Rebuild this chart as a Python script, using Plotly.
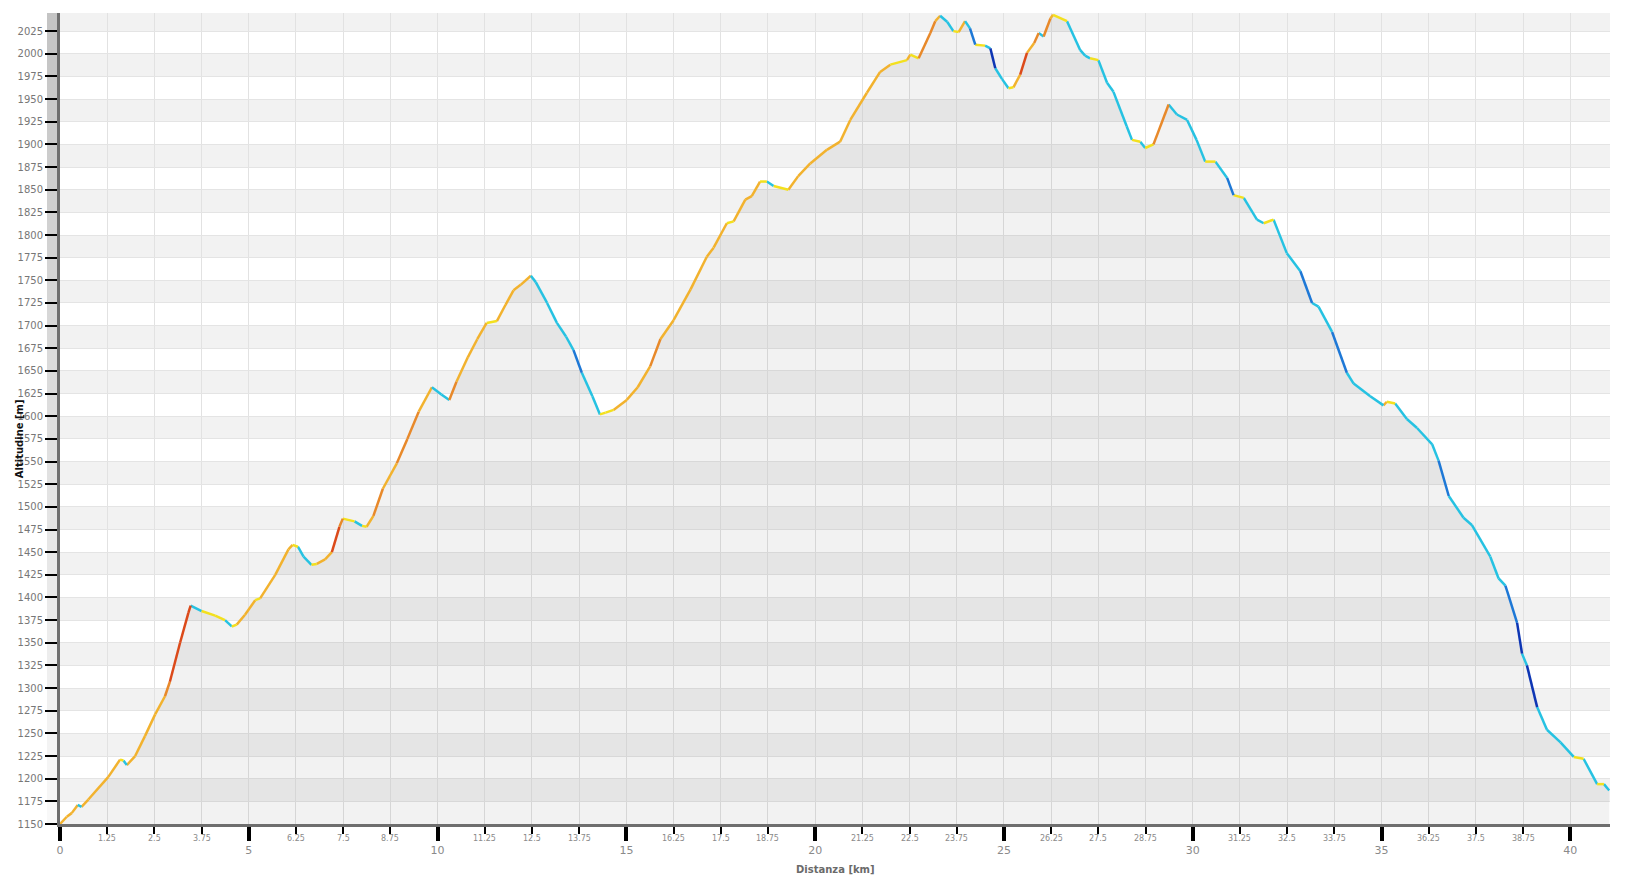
import plotly.graph_objects as go

# Elevation profile (km, m)
distanza = [0.00, 0.18, 0.31, 0.47, 0.57, 0.75, 1.28, 1.59, 1.68, 1.77, 1.99, 2.25, 2.52, 2.78,
            2.91, 3.18, 3.40, 3.46, 3.75, 4.11, 4.37, 4.55, 4.68, 4.90, 5.17, 5.30, 5.70, 6.05,
            6.16, 6.30, 6.45, 6.66, 6.80, 7.02, 7.20, 7.40, 7.49, 7.80, 8.00, 8.12, 8.30, 8.55,
            8.92, 9.20, 9.50, 9.85, 10.10, 10.31, 10.50, 10.80, 11.05, 11.30, 11.57, 11.80, 12.01,
            12.20, 12.47, 12.60, 12.90, 13.16, 13.40, 13.60, 13.82, 14.10, 14.30, 14.45, 14.66,
            15.01, 15.30, 15.63, 15.90, 16.25, 16.70, 17.13, 17.31, 17.66, 17.84, 18.15, 18.32,
            18.54, 18.72, 18.90, 19.29, 19.55, 19.87, 20.31, 20.66, 20.93, 21.37, 21.72, 21.99,
            22.43, 22.52, 22.74, 23.05, 23.18, 23.31, 23.50, 23.66, 23.80, 23.97, 24.10, 24.24,
            24.50, 24.64, 24.77, 24.95, 25.12, 25.25, 25.43, 25.61, 25.80, 25.92, 26.05, 26.23,
            26.30, 26.67, 27.02, 27.15, 27.28, 27.50, 27.73, 27.90, 28.25, 28.39, 28.61, 28.74,
            28.96, 29.36, 29.58, 29.85, 30.10, 30.33, 30.60, 30.91, 31.08, 31.35, 31.70, 31.88,
            32.14, 32.49, 32.85, 33.16, 33.33, 33.69, 34.08, 34.26, 34.70, 35.05, 35.14, 35.36,
            35.67, 35.94, 36.34, 36.51, 36.78, 37.17, 37.39, 37.88, 38.10, 38.28, 38.59, 38.72,
            38.85, 39.12, 39.38, 39.74, 40.09, 40.35, 40.71, 40.89, 41.03]
altitudine = [1150, 1158, 1162, 1171, 1169, 1177, 1202, 1221, 1220, 1215, 1225, 1247, 1271, 1291,
              1307, 1350, 1383, 1391, 1385, 1380, 1375, 1368, 1370, 1381, 1397, 1399, 1425, 1453,
              1458, 1456, 1445, 1436, 1437, 1442, 1450, 1478, 1487, 1484, 1479, 1478, 1490, 1520,
              1548, 1575, 1605, 1632, 1624, 1618, 1638, 1665, 1685, 1703, 1705, 1723, 1739,
              1745, 1755, 1748, 1725, 1703, 1688, 1673, 1648, 1622, 1602, 1604, 1607,
              1618, 1632, 1655, 1685, 1706, 1740, 1776, 1786, 1813, 1815, 1839, 1843,
              1859, 1859, 1854, 1850, 1865, 1879, 1894, 1903, 1927, 1957, 1980, 1988,
              1993, 1999, 1995, 2023, 2036, 2042, 2035, 2025, 2024, 2036, 2028, 2010,
              2009, 2006, 1984, 1972, 1962, 1963, 1977, 2001, 2012, 2023, 2019, 2039,
              2043, 2036, 2004, 1998, 1995, 1993, 1968, 1958, 1920, 1905, 1903, 1896,
              1900, 1944, 1933, 1927, 1905, 1881, 1881, 1863, 1844, 1841, 1817, 1813,
              1817, 1780, 1760, 1725, 1721, 1693, 1648, 1636, 1622, 1612, 1616, 1614,
              1597, 1587, 1569, 1551, 1512, 1488, 1480, 1445, 1421, 1413, 1372, 1338,
              1325, 1279, 1254, 1240, 1224, 1222, 1194, 1194, 1187]

major_ticks = [0, 5, 10, 15, 20, 25, 30, 35, 40]
minor_ticks = [1.25, 2.5, 3.75, 6.25, 7.5, 8.75, 11.25, 12.5, 13.75, 16.25, 17.5, 18.75,
               21.25, 22.5, 23.75, 26.25, 27.5, 28.75, 31.25, 32.5, 33.75, 36.25, 37.5, 38.75]

X_MAX = 41.05
Y_MIN, Y_MAX = 1150, 2045
FONT = "DejaVu Sans"


def slope_color(g):
    # g = grade in %
    if g >= 13:
        return "#DC4A1A"
    if g >= 9:
        return "#E8892A"
    if g >= 2:
        return "#F2B22E"
    if g > -2:
        return "#F3E01E"
    if g > -11:
        return "#26C2E2"
    if g > -15:
        return "#1E78D6"
    return "#0E36B4"


fig = go.Figure()

# grey area under the profile
fig.add_trace(go.Scatter(
    x=distanza, y=altitudine, mode="lines", fill="tozeroy",
    fillcolor="rgba(0,0,0,0.05)", line=dict(width=0), hoverinfo="skip", showlegend=False
))

# profile line coloured by slope
segs = {}
for i in range(len(distanza) - 1):
    dx = (distanza[i + 1] - distanza[i]) * 1000
    g = (altitudine[i + 1] - altitudine[i]) / dx * 100
    c = slope_color(g)
    xs, ys = segs.setdefault(c, ([], []))
    xs += [distanza[i], distanza[i + 1], None]
    ys += [altitudine[i], altitudine[i + 1], None]

for c, (xs, ys) in segs.items():
    fig.add_trace(go.Scatter(
        x=xs, y=ys, mode="lines", line=dict(color=c, width=2.5),
        connectgaps=False, hoverinfo="skip", showlegend=False
    ))

# alternating horizontal bands + grey strip left of the y axis
shapes = []
n_bands = int((Y_MAX - Y_MIN) // 25) + 1
for k in range(n_bands):
    y0 = Y_MIN + 25 * k
    y1 = min(y0 + 25, Y_MAX)
    if k % 2 == 1:
        shapes.append(dict(type="rect", xref="paper", yref="y", x0=0, x1=1, y0=y0, y1=y1,
                           fillcolor="#f2f2f2", line=dict(width=0), layer="below"))
    lv = int(248 - (248 - 196) * k / (n_bands - 1))
    shapes.append(dict(type="rect", xref="paper", yref="y", x0=-0.0084, x1=-0.0008,
                       y0=y0, y1=y1, fillcolor=f"rgb({lv},{lv},{lv})",
                       line=dict(width=0), layer="below"))

# small labels for the minor x ticks
annotations = [dict(x=v, y=0, xref="x", yref="paper", yshift=-8, yanchor="top",
                    showarrow=False, text=f"{v:g}",
                    font=dict(family=FONT, size=8, color="#8a8a8a"))
               for v in minor_ticks]
annotations.append(dict(x=-0.031, y=0.475, xref="paper", yref="paper", showarrow=False,
                        text="<b>Altitudine [m]</b>", textangle=-90,
                        font=dict(family=FONT, size=10, color="#111111")))
annotations.append(dict(x=0.5, y=0, xref="paper", yref="paper", yshift=-38, yanchor="top",
                        showarrow=False, text="<b>Distanza [km]</b>",
                        font=dict(family=FONT, size=10, color="#6a6a6a")))

# page body adds an 8px offset, so the figure is sized to fit the window
fig.update_layout(
    width=1630, height=869,
    margin=dict(l=52, r=28, t=5, b=53),
    paper_bgcolor="white", plot_bgcolor="white",
    shapes=shapes, annotations=annotations,
    font=dict(family=FONT, color="#777777"),
    xaxis=dict(
        range=[0, X_MAX], tickvals=major_ticks, ticktext=[str(v) for v in major_ticks],
        ticks="outside", ticklen=14, tickwidth=4, tickcolor="black",
        tickfont=dict(family=FONT, size=11, color="#8a8a8a"),
        showgrid=True, gridcolor="#e2e2e2", gridwidth=1,
        minor=dict(tickvals=minor_ticks, ticks="outside", ticklen=7, tickwidth=2,
                   tickcolor="black", showgrid=True, gridcolor="#e2e2e2", gridwidth=1),
        showline=True, linecolor="#6e6e6e", linewidth=3, zeroline=False,
        automargin=False,
    ),
    yaxis=dict(
        range=[Y_MIN, Y_MAX], tick0=1150, dtick=25,
        ticks="outside", ticklen=12, tickwidth=2, tickcolor="black",
        tickfont=dict(family=FONT, size=10, color="#777777"),
        showgrid=True, gridcolor="#e4e4e4", gridwidth=1,
        showline=True, linecolor="#6e6e6e", linewidth=3, zeroline=False,
        automargin=False,
    ),
)

fig.write_html("out.html")
